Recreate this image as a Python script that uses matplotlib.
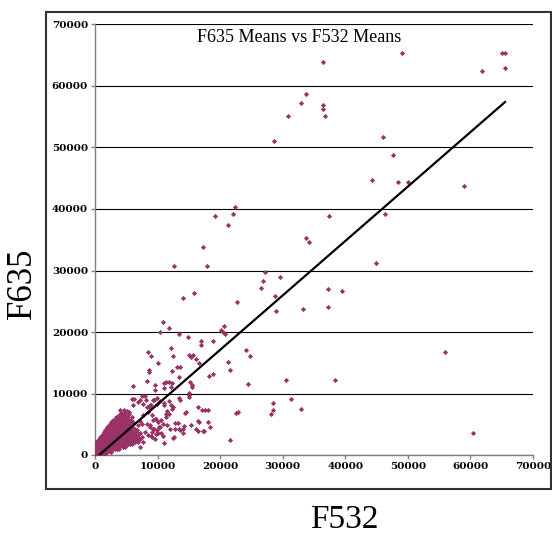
import matplotlib
matplotlib.use("Agg")
import matplotlib.pyplot as plt
from matplotlib.patches import Rectangle

# spots far from the main cloud (F532, F635)
outliers = [
    (49100, 65400), (65100, 65400), (65600, 65400), (61900, 62400), (65500, 62900),
    (36500, 63900), (33800, 58700), (32900, 57200), (36500, 56900), (36500, 56300),
    (36800, 55100), (30800, 55100), (46100, 51700), (47600, 48700), (44300, 44700),
    (48500, 44400), (50000, 44400), (58900, 43800), (37400, 38900), (46400, 39200),
    (33800, 35300), (34200, 34600), (28600, 51100), (19200, 38900), (21200, 37400),
    (22100, 39200), (22400, 40400), (17300, 33800), (12600, 30700), (17900, 30700),
    (27200, 29800), (26900, 28300), (29600, 28900), (26600, 27100), (28700, 25800),
    (44900, 31300), (37300, 27000), (39500, 26700), (29000, 23400), (33200, 23700),
    (37300, 24000), (22700, 24900), (14000, 25500), (15800, 26400), (56000, 16700),
    (30500, 12200), (38300, 12200), (31400, 9100), (28400, 8500), (28400, 7300),
    (28100, 6700), (32900, 7500), (60400, 3600), (21500, 2400), (24500, 11500),
    (24200, 17000), (24800, 16100), (21200, 15200), (21500, 13900), (22800, 7000),
    (22600, 6800),
]

# 8000 - 21000 range
mid_spots = [
    (10800, 21600), (11900, 20700), (10400, 20000), (13400, 19700), (14900, 19200),
    (20100, 20400), (20400, 20000), (20600, 20900), (20800, 19600), (17000, 18500),
    (17000, 17900), (18800, 18500), (12200, 17400), (8400, 16700), (9000, 16100),
    (12500, 16100), (15000, 16300), (15300, 16000), (15600, 16200), (16100, 15600),
    (16700, 14900), (18800, 13100), (10100, 14900), (8700, 13900), (8700, 13500),
    (12300, 13600), (13100, 14300), (13600, 14300), (13400, 12700), (11300, 11900),
    (11800, 11900), (11000, 10900), (12300, 11700), (12200, 11100), (15200, 11900),
    (15500, 11100), (15500, 11400), (15000, 10100), (15000, 9400), (6000, 11300),
    (18200, 12900), (8300, 12100), (9600, 11400), (11100, 11700), (9600, 10600),
    (7500, 9600), (8000, 9600), (5900, 9100), (6300, 9100),
    (9400, 8900), (8800, 8100), (8800, 7700), (10400, 8800), (9900, 8300),
    (11000, 8500), (11000, 8100), (11900, 8700), (12200, 8100), (12400, 7800),
    (11500, 7100), (11300, 6700), (11900, 6700), (12300, 7400), (13400, 9300),
    (13600, 8900), (15000, 9700), (14500, 7000), (16500, 7800), (17100, 7300),
    (17600, 7300), (18000, 7300), (12800, 5200), (13300, 5200), (12800, 4300),
    (13400, 4300), (14100, 4300), (14100, 3600), (12600, 3000), (15300, 4800),
    (16100, 4200), (16600, 5300), (17200, 3900), (18000, 5400), (18400, 4500),
    (16500, 5500), (16500, 3900), (17400, 3900), (14300, 4700), (13600, 4000),
    (14400, 6900), (11000, 1900), (12400, 2700),
    (9300, 5700), (9750, 5800), (10100, 5400), (10600, 5700), (10900, 5000),
    (11500, 4900), (10300, 4600), (9500, 4200), (9100, 3800), (9750, 3400),
    (10600, 3500), (10900, 3100), (8800, 4900), (9000, 3100), (12000, 4200),
    (11300, 6100),
    (6100, 8100), (6800, 8600), (7200, 8900), (7700, 8300), (8200, 9000),
    (8300, 7800), (8900, 8200), (9300, 8900), (9900, 9200), (8500, 7000),
    (9100, 6500), (9600, 5900), (7700, 6500), (7200, 5600), (6900, 4800),
    (7500, 5100), (8300, 5100), (8800, 4500), (9300, 4300), (9900, 4000),
    (10400, 4500), (6700, 4000), (7200, 3500), (8000, 3700), (8500, 3200),
    (9100, 2900), (9600, 2600), (10100, 3500), (6700, 2400), (7200, 1300),
    (7700, 2100),
]

# the dense cloud near the origin
dense_spots = [
    (60, 60), (300, 350),
    (150, 120), (450, 200), (750, 90), (1050, 180), (1350, 130), (1600, 230),
    (100, 520), (400, 600), (700, 480), (1000, 570), (1300, 520), (1600, 610),
    (1900, 500), (2200, 580), (2550, 510),
    (120, 980), (420, 900), (720, 990), (1020, 920), (1320, 1000), (1620, 910),
    (1920, 970), (2220, 900), (2520, 990), (2820, 930), (3150, 980), (3450, 900),
    (3800, 960),
    (150, 1300), (450, 1390), (750, 1320), (1050, 1400), (1350, 1310), (1650, 1380),
    (1950, 1300), (2250, 1400), (2550, 1330), (2850, 1390), (3150, 1310), (3450, 1380),
    (3750, 1300), (4050, 1400), (4400, 1330), (4800, 1380),
    (100, 1720), (400, 1800), (700, 1700), (1000, 1790), (1300, 1710), (1600, 1800),
    (1900, 1720), (2200, 1780), (2500, 1700), (2800, 1800), (3100, 1720), (3400, 1790),
    (3700, 1710), (4000, 1800), (4300, 1720), (4600, 1780), (4900, 1700), (5250, 1790),
    (5600, 1730), (5950, 1800),
    (150, 2100), (500, 2200), (850, 2120), (1150, 2190), (1450, 2100), (1750, 2180),
    (2050, 2110), (2350, 2200), (2650, 2120), (2950, 2190), (3250, 2100), (3550, 2180),
    (3850, 2110), (4150, 2200), (4450, 2120), (4750, 2190), (5050, 2100), (5350, 2180),
    (5700, 2120), (6050, 2200), (6450, 2110), (6900, 2170),
    (550, 2500), (850, 2600), (1150, 2520), (1450, 2590), (1750, 2500), (2050, 2580),
    (2350, 2510), (2650, 2600), (2950, 2520), (3250, 2590), (3550, 2500), (3850, 2580),
    (4150, 2510), (4450, 2600), (4750, 2520), (5050, 2590), (5400, 2500), (5750, 2580),
    (6150, 2520), (6600, 2600), (7200, 2540),
    (850, 2900), (1150, 3000), (1450, 2920), (1750, 2990), (2050, 2900), (2350, 2980),
    (2650, 2910), (2950, 3000), (3250, 2920), (3550, 2990), (3850, 2900), (4150, 2980),
    (4450, 2910), (4750, 3000), (5100, 2920), (5450, 2990), (5850, 2900), (6300, 2980),
    (6800, 2920), (7500, 3000),
    (1150, 3300), (1450, 3400), (1750, 3320), (2050, 3390), (2350, 3300), (2650, 3380),
    (2950, 3310), (3250, 3400), (3550, 3320), (3850, 3390), (4150, 3300), (4450, 3380),
    (4800, 3310), (5150, 3400), (5550, 3320), (6000, 3390), (6500, 3300), (7000, 3380),
    (1400, 3700), (1700, 3800), (2000, 3720), (2300, 3790), (2600, 3700), (2900, 3780),
    (3200, 3710), (3500, 3800), (3800, 3720), (4100, 3790), (4450, 3700), (4800, 3780),
    (5200, 3710), (5650, 3800), (6100, 3720), (6600, 3780),
    (1650, 4100), (1950, 4200), (2250, 4120), (2550, 4190), (2850, 4100), (3150, 4180),
    (3450, 4110), (3750, 4200), (4100, 4120), (4450, 4190), (4850, 4100), (5300, 4180),
    (5800, 4120), (6350, 4190),
    (1950, 4500), (2300, 4600), (2650, 4520), (3000, 4590), (3350, 4500), (3700, 4580),
    (4050, 4510), (4450, 4600), (4900, 4520), (5400, 4590), (5900, 4500),
    (2250, 4900), (2600, 5000), (2950, 4920), (3350, 4990), (3750, 4900), (4150, 4980),
    (4550, 4910), (5000, 5000), (5500, 4920), (6100, 4990),
    (2600, 5300), (3000, 5400), (3400, 5320), (3800, 5390), (4200, 5300), (4650, 5380),
    (5100, 5310), (5600, 5400), (6000, 5320),
    (2950, 5700), (3400, 5800), (3850, 5720), (4300, 5790), (4750, 5700), (5250, 5780),
    (5800, 5710),
    (3400, 6100), (3850, 6200), (4300, 6120), (4800, 6190), (5300, 6100), (5850, 6180),
    (3800, 6500), (4300, 6600), (4850, 6520), (5400, 6590),
    (4200, 6900), (4800, 7000), (5400, 6920),
    (4000, 7300), (4700, 7250), (5100, 7100),
]

# linear trendline
trend_slope = 0.885
trend_intercept = -600
trend_x = [680, 65530]

spots = outliers + mid_spots + dense_spots
f532 = [p[0] for p in spots]
f635 = [p[1] for p in spots]
trend_y = [trend_slope * v + trend_intercept for v in trend_x]

fig = plt.figure(figsize=(5.52, 5.34), dpi=100)
ax = fig.add_axes([95 / 552, 1 - 455 / 534, 438 / 552, 430.5 / 534])

ax.scatter(f532, f635, marker="D", s=7, color="#993366", linewidths=0, zorder=3)
ax.plot(trend_x, trend_y, color="black", lw=1.6, zorder=4)

ax.set_xlim(0, 70000)
ax.set_ylim(0, 70000)
ticks = list(range(0, 70001, 10000))
ax.set_xticks(ticks)
ax.set_yticks(ticks)
ax.yaxis.grid(True, color="black", lw=0.8)
ax.set_axisbelow(True)

for side in ["top", "right"]:
    ax.spines[side].set_visible(False)
for side in ["left", "bottom"]:
    ax.spines[side].set_color("#808080")
    ax.spines[side].set_linewidth(1)

ax.tick_params(direction="out", length=3, width=1, color="#808080", pad=2)
for lab in ax.get_xticklabels() + ax.get_yticklabels():
    lab.set_fontfamily("DejaVu Serif")
    lab.set_fontweight("bold")
    lab.set_fontsize(7.5)

fig.text(299.5 / 552, 1 - 38 / 534, "F635 Means vs F532 Means",
         family="Liberation Serif", fontsize=13, ha="center", va="center")
fig.text(22 / 552, 1 - 283 / 534, "F635", family="Liberation Serif",
         fontsize=25, rotation=90, ha="center", va="center")
fig.text(344 / 552, 1 - 520 / 534, "F532", family="Liberation Serif",
         fontsize=24, ha="center", va="center")

fig.patches.append(Rectangle((46 / 552, 1 - 489 / 534), 505 / 552, 477 / 534,
                             fill=False, edgecolor="#333333", lw=1.5,
                             transform=fig.transFigure, figure=fig))

fig.savefig("out.png", dpi=100)
